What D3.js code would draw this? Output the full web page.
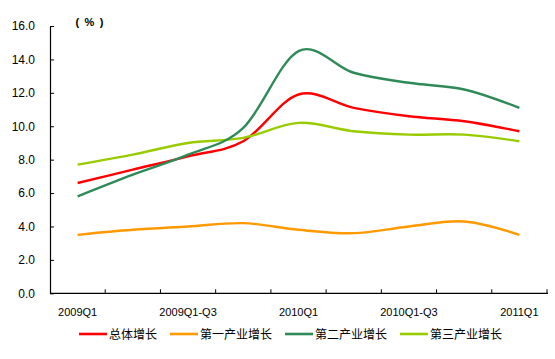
<!DOCTYPE html>
<html>
<head>
<meta charset="utf-8">
<script src="https://cdn.jsdelivr.net/npm/d3@7"></script>
<style>
body{margin:0;background:#fff;}
svg{display:block;}
</style>
</head>
<body>
<svg id="chart" width="555" height="359"></svg>
<script>
const categories = ["2009Q1","2009Q1-Q2","2009Q1-Q3","2009Q1-Q4","2010Q1","2010Q1-Q2","2010Q1-Q3","2010Q1-Q4","2011Q1"];
const shownLabels = ["2009Q1","2009Q1-Q3","2010Q1","2010Q1-Q3","2011Q1"];
const total     = [6.6, 7.4, 8.2, 9.1, 11.9, 11.1, 10.6, 10.3, 9.7];
const primary   = [3.5, 3.8, 4.0, 4.2, 3.8, 3.6, 4.0, 4.3, 3.5];
const secondary = [5.8, 7.1, 8.3, 9.9, 14.5, 13.2, 12.6, 12.2, 11.1];
const tertiary  = [7.7, 8.3, 9.0, 9.3, 10.2, 9.7, 9.5, 9.5, 9.1];
const seriesNames = ["总体增长","第一产业增长","第二产业增长","第三产业增长"];
const yTicks = [0,2,4,6,8,10,12,14,16];
const unitLabel = "( % )";

const colors = ["#FF0000","#FF9900","#2E8B57","#99CC00"];
const seriesData = [total, primary, secondary, tertiary];

const svg = d3.select("#chart");
const mLeft = 50, mRight = 547, mTop = 26, mBottom = 293.3;

const x = d3.scaleBand().domain(categories).range([mLeft, mRight]).paddingInner(0).paddingOuter(0);
const y = d3.scaleLinear().domain([0,16]).range([mBottom, mTop]);

// y axis
const yAxis = d3.axisLeft(y).tickValues(yTicks).tickFormat(d3.format(".1f")).tickSizeInner(-4).tickSizeOuter(0).tickPadding(15);
const gy = svg.append("g").attr("transform", `translate(${mLeft},0)`).call(yAxis);
gy.select(".domain").attr("stroke","#000").attr("stroke-width",1.2);
gy.selectAll(".tick line").attr("stroke","#000");
gy.selectAll("text").attr("font-family","'Liberation Sans', Arial, sans-serif").attr("font-size","12px").attr("fill","#000");

// x axis line
svg.append("line").attr("x1",mLeft).attr("x2",mRight+1).attr("y1",mBottom).attr("y2",mBottom).attr("stroke","#000").attr("stroke-width",1.2);
// ticks at band boundaries
const boundaries = categories.map(c => x(c) + x.bandwidth());
svg.append("g").selectAll("line").data(boundaries).join("line")
  .attr("x1",d=>d).attr("x2",d=>d).attr("y1",mBottom).attr("y2",mBottom-4).attr("stroke","#000");

// x labels
svg.append("g").selectAll("text").data(shownLabels).join("text")
  .attr("x", d => x(d) + x.bandwidth()/2)
  .attr("y", 316)
  .attr("text-anchor","middle")
  .attr("font-family","'Liberation Sans', Arial, sans-serif")
  .attr("font-size","11px")
  .attr("fill","#000")
  .text(d=>d);

// unit label
svg.append("text").attr("x",90).attr("y",26).attr("text-anchor","middle")
  .attr("font-family","'Liberation Sans', Arial, sans-serif").attr("font-size","11px").attr("font-weight","bold")
  .attr("letter-spacing","1.2px").attr("xml:space","preserve")
  .style("white-space","pre")
  .attr("fill","#000").text(unitLabel);

// lines
const line = d3.line()
  .x((d,i) => x(categories[i]) + x.bandwidth()/2)
  .y(d => y(d))
  .curve(d3.curveCardinal.tension(0));

const order = [1,0,3,2];
order.forEach(k => {
  svg.append("path").datum(seriesData[k])
    .attr("d", line)
    .attr("fill","none")
    .attr("stroke", colors[k])
    .attr("stroke-width", 2.4)
    .attr("stroke-linejoin","round");
});

// legend
const legendX = [79, 170, 285, 400];
const legendY = 334;
const lg = svg.append("g");
seriesNames.forEach((name,i) => {
  lg.append("line").attr("x1",legendX[i]).attr("x2",legendX[i]+28)
    .attr("y1",legendY).attr("y2",legendY)
    .attr("stroke",colors[i]).attr("stroke-width",2.6);
  lg.append("text").attr("x",legendX[i]+30).attr("y",legendY+4.5)
    .attr("font-family","'Noto Sans CJK SC', sans-serif").attr("font-size","12px")
    .attr("fill","#000").text(name);
});
</script>
</body>
</html>
